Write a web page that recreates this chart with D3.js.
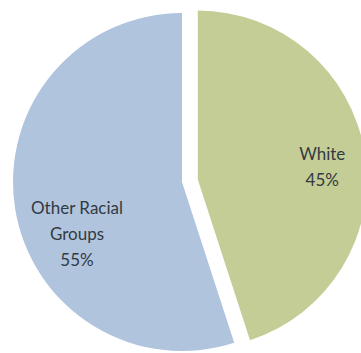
<!DOCTYPE html>
<html><head><meta charset="utf-8">
<script src="https://cdn.jsdelivr.net/npm/d3@7/dist/d3.min.js"></script>
<style>html,body{margin:0;padding:0;background:#fff;overflow:hidden}</style>
</head><body>
<svg id="chart" width="361" height="353"></svg>
<script>
const categories = ["White", "Other Racial Groups"];
const values = [45, 55];
const labelLines = [["White", "45%"], ["Other Racial", "Groups", "55%"]];
const colors = ["#c3cd95", "#b1c4de"];

const svg = d3.select("#chart");
const cx = 182, cy = 182, r = 169, explode = 16;
const pie = d3.pie().sort(null).value(d => d).startAngle(0);
const arcs = pie(values);
const arc = d3.arc().innerRadius(0).outerRadius(r);
// label placement tweaks (angle shift in radians, radius)
const labelCfg = [{da: 0.06, lr: 125}, {da: -0.30, lr: 117}];

const g = svg.append("g").attr("transform", `translate(${cx},${cy})`);
arcs.forEach((a, i) => {
  const mid = (a.startAngle + a.endAngle) / 2;
  const off = i === 0 ? explode : 0;
  const ox = Math.sin(mid) * off, oy = -Math.cos(mid) * off;
  const sg = g.append("g").attr("transform", `translate(${ox},${oy})`);
  sg.append("path").attr("d", arc(a)).attr("fill", colors[i]);
  const la = mid + labelCfg[i].da, lr = labelCfg[i].lr;
  const lx = Math.sin(la) * lr, ly = -Math.cos(la) * lr;
  const lines = labelLines[i];
  const lh = 26;
  const t = sg.append("text").attr("text-anchor", "middle")
    .attr("font-family", "Lato, 'Open Sans', sans-serif").attr("font-size", 17)
    .attr("fill", "#333a42");
  lines.forEach((s, j) => {
    t.append("tspan").attr("x", lx).attr("y", ly + (j - (lines.length - 1) / 2) * lh)
      .attr("dy", "0.35em").text(s);
  });
});
</script>
</body></html>
